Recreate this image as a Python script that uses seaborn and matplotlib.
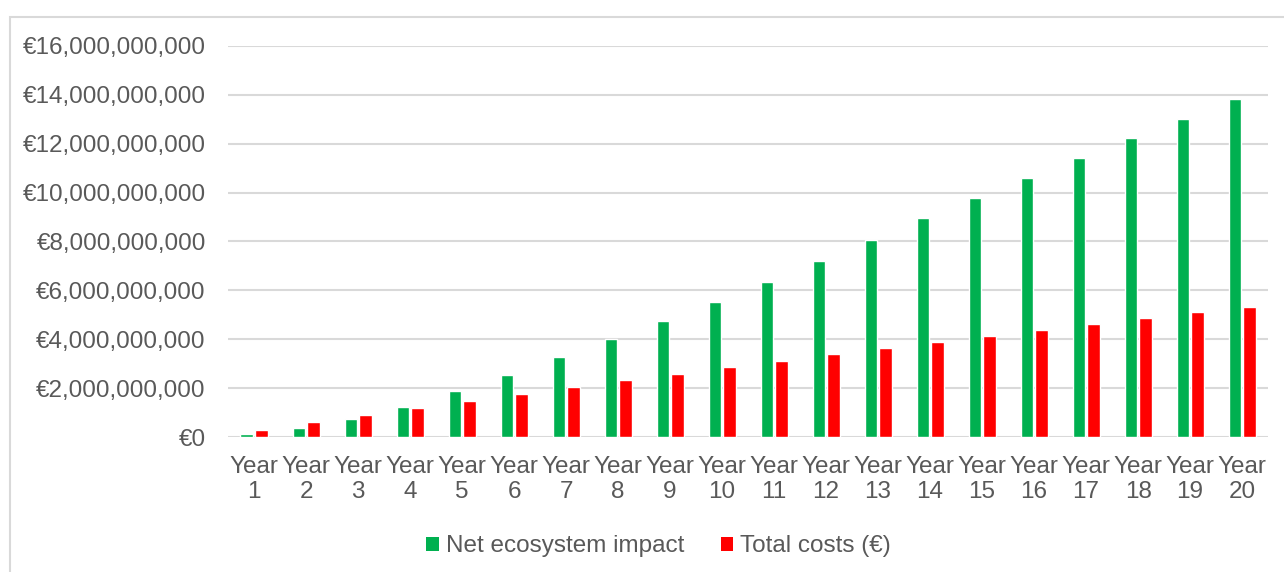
import numpy as np
import pandas as pd
import seaborn as sns
import matplotlib
matplotlib.use("Agg")
import matplotlib.pyplot as plt
from matplotlib.patches import Rectangle, Patch
from matplotlib.ticker import FuncFormatter

years = [f"Year\n{i}" for i in range(1, 21)]
net_impact = [0.12, 0.37, 0.74, 1.23, 1.88, 2.54, 3.27, 4.00, 4.74, 5.52,
              6.34, 7.20, 8.06, 8.96, 9.78, 10.60, 11.41, 12.23, 13.01, 13.83]
total_costs = [0.29, 0.61, 0.90, 1.19, 1.47, 1.76, 2.05, 2.33, 2.58, 2.86,
               3.11, 3.40, 3.64, 3.89, 4.13, 4.38, 4.62, 4.87, 5.11, 5.32]
series_names = ["Net ecosystem impact", "Total costs (€)"]
colors = ["#00B050", "#FF0000"]

df = pd.DataFrame({
    "year": years * 2,
    "value": np.array(net_impact + total_costs) * 1e9,
    "series": [series_names[0]] * 20 + [series_names[1]] * 20,
})

sns.set_style("white")
plt.rcParams['font.family'] = ['Liberation Sans', 'DejaVu Sans']

fig = plt.figure(figsize=(12.84, 5.72), dpi=100)
ax = fig.add_axes([0.1776, 0.236, 0.81, 0.6836])

sns.barplot(data=df, x="year", y="value", hue="series", palette=colors,
            width=0.56, gap=0.14, ax=ax, legend=False, saturation=1)

text_col = "#595959"
ax.set_ylim(0, 16e9)
ax.set_yticks(np.arange(0, 16.1e9, 2e9))
ax.yaxis.set_major_formatter(FuncFormatter(lambda v, p: f"€{v:,.0f}"))
ax.set_xlim(-0.5, 19.5)
ax.grid(axis="y", color="#d9d9d9", linewidth=1.5)
ax.set_axisbelow(True)
for s in ax.spines.values():
    s.set_visible(False)
ax.tick_params(axis="both", length=0, labelsize=17.5, colors=text_col)
ax.tick_params(axis="y", pad=16)
ax.tick_params(axis="x", pad=14)
for lbl in ax.get_xticklabels():
    lbl.set_linespacing(1.15)
ax.set_xlabel("")
ax.set_ylabel("")

# legend
handles = [Patch(facecolor=c, edgecolor="none") for c in colors]
leg = fig.legend(handles, series_names, loc="center", bbox_to_anchor=(0.513, 0.045),
                 ncol=2, frameon=False, fontsize=17.5, handlelength=0.5,
                 handleheight=0.5, handletextpad=0.3, columnspacing=1.5)
for t in leg.get_texts():
    t.set_color(text_col)

# outer chart frame
fig.patches.append(Rectangle((10 / 1284, -0.05), 1.2, (572 - 17) / 572 + 0.05,
                             transform=fig.transFigure, fill=False,
                             edgecolor="#d9d9d9", linewidth=1.5, zorder=-1))

fig.savefig("out.png", dpi=100)
